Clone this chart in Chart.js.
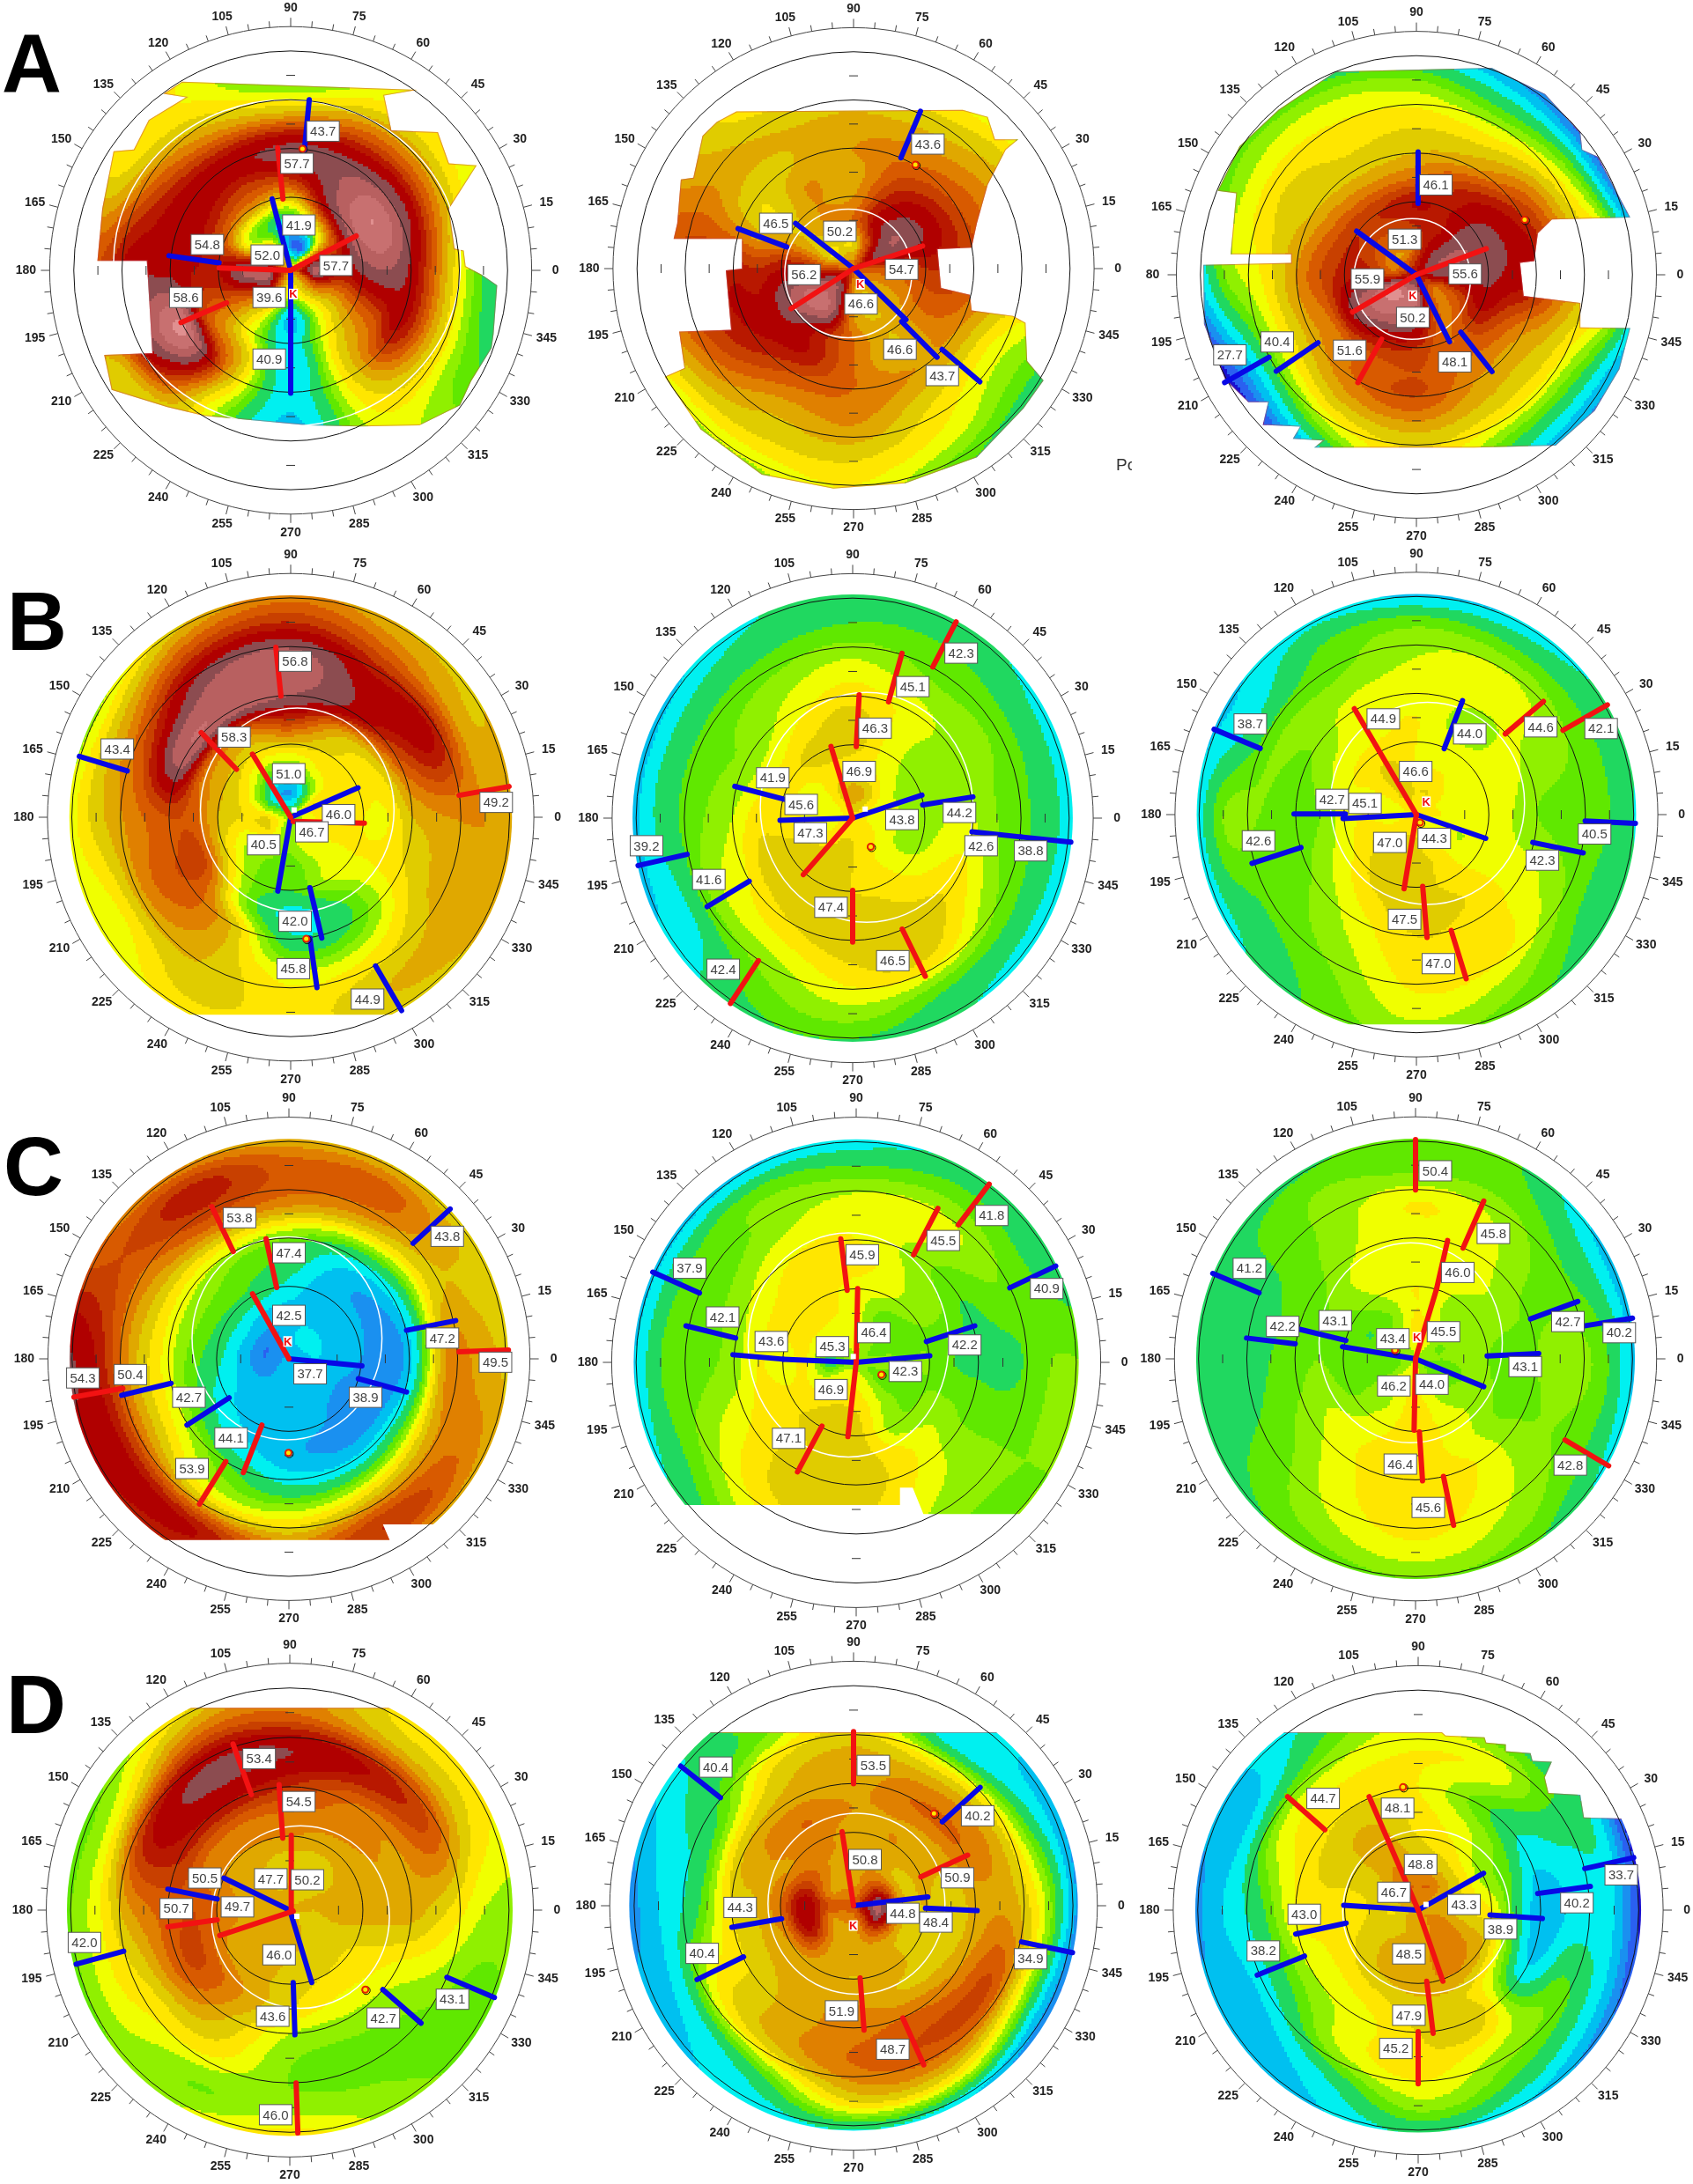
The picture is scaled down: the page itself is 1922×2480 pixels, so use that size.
<!DOCTYPE html>
<html>
<head>
<meta charset="utf-8">
<title>Topography maps</title>
<script src="https://cdn.jsdelivr.net/npm/chart.js@4/dist/chart.umd.min.js"></script>
<style>
  html, body { margin: 0; background: #fff; width: 1922px; height: 2480px; overflow: hidden; }
  canvas { position: absolute; }
  .letter { position: absolute; font: bold 94px "Liberation Sans", Arial, sans-serif; color: #000; line-height: 94px; }
  .clipped { position: absolute; left: 1267px; top: 517px; width: 18px; overflow: hidden; font: 19px "Liberation Sans", Arial, sans-serif; color: #333; }
</style>
</head>
<body>
<script>
// Colour bands of the keratometry scale (dioptres)
const kBands = [30,32,34,36,37.5,39,40.5,42,43,44,45,46,47,48,49,50,51,52,53.5,55,56.5,58];
const kColors = ['#7a1fb0','#3a10b0','#1a10d0','#2a60f0','#1a90f0','#00c0f0','#00f0f0','#20d860','#60e800','#90f000','#f0ff00','#ffe600','#e0cc00','#e0a800','#e08000','#d85a00','#c84000','#b81800','#b00000','#8c4c50','#b86060','#c87070','#e09090'];

// Map grid: rows are radii, columns are angles
const mapRadii = [1,2,3,4,5,6.5,8,9.5];
const mapAngles = [0,30,60,90,120,150,180,210,240,270,300,330];
const ringRadii = [3,5,7,9,10];
const axisMarks = [-8,-6,-4,-2,2,4,6,8];
const degreeLabels = [0,15,30,45,60,75,90,105,120,135,150,165,180,195,210,225,240,255,270,285,300,315,330,345];

// ---- Row A
const a1Map = [
[56,50,36,36,45,50,56,54,48,44,46,50],
[52,50,45,40,42,45,55,50,45,38.5,44,48],
[54,56,53,47,48,49,52,49,44,39.5,45,49],
[55,58,55,52,51,52,52,50,47,39,46,50],
[53,55,54,54,53,53,53,58,47,39.5,46,52],
[47,49,49,47,48,50,53,54,44.5,38.5,45,47],
[42,45,45,42,45,46,50,47,45,38,44,43],
[40,45,45,42,45,46,50,47,44,38,44,42]];
const a1Red = [[0,0,2.72,1.41],[-2.97,.1,0,0],[-.32,2.93,-.54,5.03],[-2.66,-1.33,-4.55,-2.14]];
const a1Blue = [[-.77,2.93,0,0],[0,0,0,-2.97],[0,-2.97,0,-5.04],[.57,4.96,.77,7],[-2.97,.31,-5.05,.6]];
const a1Values = [57.7,52.0,57.7,58.6,41.9,39.6,40.9,43.7,54.8];
const a1ValueAt = [[1.88,.2],[-.97,.63],[.26,4.39],[-4.35,-1.11],[.34,1.86],[-.89,-1.11],[-.89,-3.64],[1.34,5.71],[-3.46,1.06]];
const a1Outline = [[-4.51,7.74],[5.26,7.41],[3.88,7.17],[4.18,5.74],[6.11,5.67],[6.57,4.39],[7.72,4.31],[6.57,2.53],[6.8,.89],[7.18,.81],[7.26,.17],[7.95,-.19],[8.57,-.61],[8.42,-2.61],[8.34,-3.19],[7.49,-4.54],[7.03,-5.54],[5.34,-6.36],[2.88,-6.4],[.72,-6.36],[-3.58,-5.97],[-5.12,-5.61],[-7.43,-4.9],[-7.74,-3.47],[-5.74,-3.4],[-5.97,.39],[-8.02,.39],[-7.82,2.53],[-7.35,4.89],[-6.51,4.96],[-5.89,6.17],[-4.35,7.1],[-5.28,7.24]];

const a2Map = [
[50,54,50,46,46,46,50,55,54,48,47,48],
[50,55,53,49,48,47,52,57,56,48,47,48],
[51,54,52,48,48,47,52,55,52,49,47,49],
[51,52,50.5,47.5,48,46,51,52.5,52,49,47,49],
[50,50,49,48,47,46.5,51.5,52,50,49,48,48],
[48,48,47,47,47,48,51,50,47.5,48,46,45],
[46,46,45,46,45.5,47.5,50,47,46,46,44.5,43],
[44,42,42,45,45,47,48,44,43.5,44.7,42,41]];
const a2Red = [[0,0,2.87,.94],[0,0,-2.6,-1.66]];
const a2Blue = [[0,0,-2.41,1.88],[0,0,2.18,-2.12],[2,-2.2,3.47,-3.68],[3.68,-3.35,5.25,-4.7],[1.97,4.6,2.78,6.53],[-2.78,.9,-4.8,1.66]];
const a2Values = [54.7,56.2,50.2,46.6,46.6,43.7,43.6,46.5];
const a2ValueAt = [[2,-.03],[-2.06,-.25],[-.57,1.55],[.31,-1.47],[1.93,-3.35],[3.69,-4.44],[3.09,5.17],[-3.23,1.88]];
const a2Outline = [[-4.87,6.52],[4.54,6.59],[5.58,6.3],[5.88,5.36],[6.85,5.36],[6.33,4.93],[5.58,3.48],[5.13,1.88],[4.91,.87],[3.49,.8],[3.64,-.8],[4.84,-1.09],[4.91,-1.74],[6.63,-1.96],[7.15,-2.25],[7.22,-3.84],[7.9,-4.64],[7.07,-5.8],[5.13,-7.83],[2.15,-8.91],[-.84,-9.13],[-3.82,-8.55],[-6.36,-6.67],[-7.85,-4.49],[-7.03,-4.13],[-7.25,-2.61],[-5.09,-2.54],[-5.31,-.07],[-4.64,0],[-4.64,1.23],[-7.48,1.23],[-7.33,1.88],[-7.18,3.7],[-6.66,3.77],[-6.28,5.51],[-5.69,6.09]];

const a3Map = [
[54,55,53,50,48,48,50,58,58,57,50,49],
[54,55,52,51,50,50,52,57,56,54,49,50],
[54,54.5,52,52,51,51,51.5,54,52,51,49,52],
[53,53,51,49,48.5,49,50,49,49.5,50,49,50],
[52,51,48,47,46.5,47,48,47.5,49,50,48,48],
[48,47,45,45.5,45.5,46,45,44,46,47,46,46],
[46,42,41,43,44,44,43,38,41,45,42,42],
[40,33,36,39,41,42,38,31,33,43,38,37]];
const a3Red = [[0,0,2.91,1.07],[0,0,-2.66,-1.53],[-1.45,-2.65,-2.44,-4.43]];
const a3Blue = [[0,0,-2.49,1.79],[0,0,1.38,-2.75],[1.85,-2.36,3.15,-3.98],[.07,2.93,.07,5.05],[-4.1,-2.79,-5.84,-3.96],[-6.14,-3.39,-7.99,-4.43]];
const a3Values = [55.6,55.9,51.6,51.3,50.2,48.1,46.1,40.4,27.7];
const a3ValueAt = [[2.03,.03],[-2.04,-.17],[-2.78,-3.1],[-.49,1.46],[-.15,-1.75],[1.6,-3.58],[.81,3.69],[-5.8,-2.76],[-7.77,-3.29]];
const a3Outline = [[-3.37,8.35],[3.14,8.5],[5.36,7.43],[6.83,5.85],[6.91,5.14],[7.57,4.85],[8.91,2.35],[5.65,2.27],[5.06,1.7],[4.91,.56],[4.32,.49],[4.47,-.87],[6.83,-1.16],[6.83,-2.16],[8.91,-2.19],[8.46,-3.88],[7.43,-5.59],[5.8,-7.02],[2.4,-7.1],[-4.26,-7.1],[-3.9,-6.81],[-5.15,-6.74],[-4.85,-6.24],[-6.4,-6.17],[-6.18,-5.24],[-7,-5.24],[-7.96,-4.31],[-8.85,-2.02],[-8.88,.41],[-5.22,.49],[-5.22,.84],[-7.74,.84],[-7.51,3.35],[-8.28,3.45],[-7.37,5.28],[-5.74,6.78]];

// ---- Row B
const b1Map = [
[45,46,41,37,38,42,46,46,44,43.5,45,45.5],
[45.5,45.5,44.5,42.5,43,45,46,44,43,42.5,44,45],
[45,45.5,46,46.5,46,47,47,46,43,42,44,45],
[45,46,47.5,51,49,49,49.5,50,43.5,40,42,45],
[47,50,53,55,56,56,50,50,47,41,42,45.5],
[48,52.5,52.5,56,55,51,48.5,48.5,47,44.5,45,47],
[48,47.5,49,51,50,47,46.5,45,46.5,45.5,47,47.5],
[47.5,47,46.5,48,46,43,44,44,45,45,46,47]];
const b1Red = [[0,0,-1.57,2.59],[.1,-.17,3.03,-.24],[-2.23,1.97,-3.68,3.47],[-.4,4.97,-.61,6.97],[6.92,.9,8.98,1.26]];
const b1Blue = [[0,0,2.77,1.21],[0,0,-.53,-3.03],[.79,-2.89,1.28,-4.96],[.79,-4.96,1.08,-6.99],[3.49,-6.1,4.56,-7.93],[-6.72,1.9,-8.69,2.5]];
const b1Values = [51.0,46.0,58.3,56.8,49.2,46.7,40.5,42.0,45.8,44.9,43.4];
const b1ValueAt = [[-.08,1.79],[1.97,.11],[-2.33,3.29],[.18,6.4],[8.45,.61],[.87,-.6],[-1.11,-1.13],[.18,-4.27],[.11,-6.21],[3.16,-7.46],[-7.13,2.8]];
const b1Outline = [[-11,11],[11,11],[11,-8.1],[-11,-8.1]];

const b2Map = [
[44.5,45,47,48,46,44.5,44.5,45,46,46,45.5,45],
[44,44,45,45.5,45.5,44.5,45,46,46.5,46,45,44],
[43.5,43.5,44.5,46.5,46.5,45.5,45.5,46.5,46.5,46,45.5,44],
[44,43.5,44.5,46.5,45.5,44.5,45.5,46.5,46.5,46.7,46,45],
[44,43.5,44.5,45.5,44.5,43.2,44,45,46,46.7,46.7,45.5],
[42.5,43,43,44,43.2,42.7,42.7,43.5,44,45.5,46,43.5],
[41.5,41.5,42,42,41.5,41,41,40,42.5,43.5,42,41.5],
[39,39.5,41,41.5,40,38,37.8,39,41.5,41.5,40.5,39]];
const b2Red = [[0,0,-.9,2.93],[0,0,-2.05,-2.31],[.15,2.93,.27,5.04],[1.49,4.76,2.05,6.74],[3.33,6.18,4.3,8.03],[0,-2.95,0,-5.07],[2.06,-4.54,3.02,-6.47],[-3.92,-5.83,-5.08,-7.58]];
const b2Blue = [[0,0,2.88,.94],[0,0,-3.02,-.09],[-2.84,.77,-4.9,1.3],[2.91,.54,5,.87],[4.96,-.56,7,-.77],[7,-.77,9.07,-.98],[-6.88,-1.48,-8.92,-1.94],[-4.3,-2.58,-6.05,-3.62]];
const b2Values = [46.9,47.3,46.3,45.1,42.3,47.4,46.5,42.4,43.8,45.6,41.9,44.2,42.6,38.8,39.2,41.6];
const b2ValueAt = [[.27,1.91],[-1.76,-.6],[.93,3.68],[2.5,5.38],[4.51,6.75],[-.9,-3.65],[1.67,-5.83],[-5.38,-6.18],[2.05,-.06],[-2.14,.56],[-3.32,1.65],[4.44,.23],[5.34,-1.13],[7.4,-1.34],[-8.57,-1.13],[-5.98,-2.51]];

const b3Map = [
[45,45,46,46,46.5,45,44,45.5,46,46,45,44.5],
[44.5,44.5,45,45,46.5,45,45,46,46.5,46.5,45.5,44],
[44.5,44.5,44.5,45,45.5,45,44.5,45,46.5,46.5,45.5,44.5],
[44,44.5,43.5,45,44.5,44,43,44,45.5,46.7,46,44.5],
[43,44,44,44.5,44.5,43,42.5,43,44.5,46,45.5,44.5],
[42.5,43.5,44.5,44,43,43,43,42.5,43.5,45.5,45.5,43.5],
[42,42,42,42.5,42,40,43,41.5,42.5,44.5,43.5,41.8],
[40,40.5,38.5,37.5,39.5,38.5,38.5,39.5,42,43,42,41]];
const b3Red = [[0,0,-2.57,4.37],[0,0,-.51,-3.06],[.26,-2.96,.44,-5.07],[1.44,-4.78,2.06,-6.77],[3.68,3.33,5.26,4.67],[6.07,3.48,7.91,4.53]];
const b3Blue = [[0,0,2.87,-.98],[0,0,-3.04,-.16],[-2.94,.03,-5.07,.03],[1.15,2.72,1.91,4.7],[4.82,-1.15,6.91,-1.58],[6.99,-.26,9.07,-.36],[-4.78,-1.36,-6.81,-2.01],[-6.47,2.73,-8.38,3.52]];
const b3Values = [46.6,44.9,47.0,47.5,47.0,44.6,42.1,44.3,45.1,42.7,44.0,42.3,40.5,42.6,38.7];
const b3ValueAt = [[-.03,1.78],[-1.37,3.95],[-1.1,-1.15],[-.49,-4.32],[.91,-6.15],[5.15,3.62],[7.65,3.55],[.74,-.98],[-2.13,.46],[-3.49,.63],[2.21,3.33],[5.22,-1.88],[7.38,-.8],[-6.54,-1.08],[-6.88,3.74]];
const b3Outline = [[-11,11],[11,11],[11,-8.66],[-11,-8.66]];

// ---- Row C
const c1Map = [
[39,39.5,39.5,38.5,37,36,36,37,38,38.5,38.5,38.5],
[38.5,38.5,38.5,38.5,38.5,39,38.5,38.5,38,38,38,37.8],
[37.5,38,38,40,41.5,41.5,41,39.5,38.5,38,37.5,36.5],
[36.5,37,38.5,41.5,42.5,43,42.5,41.5,39.5,38,37,36.5],
[38.5,39.5,41,43,44,44.5,44.5,44,42,40,39.5,40],
[48,46,47.5,48.5,49.5,48,47.5,47.5,45,44.5,46,47],
[47.5,47,49.5,49.5,51.5,50,52,52.5,52,49,51,49],
[46.5,46,46,46.5,47,49,54,52,50,49,47,47]];
const c1Red = [[0,0,-1.51,2.69],[-.51,2.95,-.95,4.97],[-2.31,4.44,-3.2,6.3],[-1.12,-2.74,-1.89,-4.71],[-2.62,-4.25,-3.71,-6.01],[-6.89,-1.22,-8.92,-1.58],[7.06,.29,9.11,.36]];
const c1Blue = [[0,0,3.03,-.29],[2.88,-.82,4.88,-1.37],[-2.48,-1.61,-4.23,-2.74],[-4.89,-1.01,-6.94,-1.51],[4.88,1.18,6.92,1.58],[5.15,4.78,6.69,6.2]];
const c1Values = [42.5,47.4,53.8,44.1,53.9,54.3,49.5,37.7,38.9,42.7,50.4,47.2,43.8];
const c1ValueAt = [[0,1.8],[0,4.39],[-2.05,5.84],[-2.4,-3.27],[-4.02,-4.54],[-8.55,-.79],[8.57,-.14],[.88,-.62],[3.18,-1.59],[-4.15,-1.59],[-6.58,-.65],[6.37,.86],[6.57,5.07]];
const c1Outline = [[-11,11],[11,11],[11,-6.85],[3.9,-6.85],[4.18,-7.5],[-11,-7.5]];

const c2Map = [
[43.5,42.5,43.5,44.5,44,43,41,44,45,45,44,42.5],
[43,42.5,42.5,44.5,45,45,45,45,46,46,44,42.5],
[43,43,44,44.5,45.5,45.5,44.5,45.5,46.5,46.5,43.5,43],
[42,43,44,45.5,45.5,45,45,45.5,46,46.5,45,43.5],
[41.8,42,43.5,45,45,44,43.5,45,46.5,46.7,45,43],
[41.8,43,44.5,44.5,43.5,42.5,42.5,44,46,46,44,43],
[43,42,42.5,42,42.5,41.8,42,42,44,44,43,43],
[43,40.5,40.5,39,37.5,37.5,38,40,41.5,42,43,43]];
const c2Red = [[.06,3.01,0,0],[0,0,-.34,-3.03],[-.37,2.94,-.63,5.04],[2.35,4.39,3.34,6.28],[4.18,5.61,5.44,7.27],[-1.4,-2.6,-2.4,-4.47]];
const c2Blue = [[0,0,3.01,.27],[0,0,-2.99,.13],[-2.99,.13,-5.04,.31],[2.87,.85,4.85,1.49],[6.28,3.04,8.16,3.93],[-4.93,.99,-6.96,1.49],[-6.41,2.83,-8.32,3.68]];
const c2Values = [46.4,46.9,45.9,45.5,41.8,47.1,42.3,45.3,43.6,42.2,40.9,42.1,37.9];
const c2ValueAt = [[.72,1.21],[-1.03,-1.11],[.25,4.39],[3.56,4.97],[5.54,5.99],[-2.76,-3.1],[2.01,-.37],[-.97,.64],[-3.47,.85],[4.44,.71],[7.79,3.01],[-5.46,1.85],[-6.81,3.84]];
const c2Outline = [[-11,11],[11,11],[11,-6.19],[2.75,-6.19],[2.31,-5.11],[1.79,-5.11],[1.79,-5.82],[-11,-5.82]];

const c3Map = [
[43,43,45,45.5,44,43,42.5,43,45,45,43.5,42],
[43.2,43.5,44,45,43,42,42.5,43,44,45.5,44,43],
[43,43.5,44,45,44,42.5,42.5,43,44.5,45.5,44.5,43.5],
[42.5,43.5,44.5,44.5,44.5,43,43,44,45,45.5,44.5,42.8],
[43,43,44.5,44.5,44,42.5,42.5,43.5,45,45.7,45,43],
[43.5,42.5,44,45,43.5,42,41.8,42.5,44.5,45.7,44.5,43],
[42,41,42.5,42.5,43,41.8,41.5,42,43.5,44.5,43.5,42],
[37.5,37.5,41.8,42.5,41.5,41.5,41.5,41.5,42,42.5,42,39.5]];
const c3Red = [[0,0,.87,2.88],[.87,2.88,1.33,4.89],[1.97,4.58,2.83,6.52],[0,6.98,0,9.06],[0,0,-.06,-2.95],[.16,-3.02,.29,-5.04],[1.16,-4.86,1.58,-6.88],[6.2,-3.35,8.01,-4.42]];
const c3Blue = [[0,0,-3.03,.5],[0,0,2.83,-1.15],[-2.89,.76,-4.8,1.22],[-4.99,.62,-7.01,.86],[-6.49,2.73,-8.41,3.53],[2.97,.12,5.11,.22],[4.77,1.65,6.73,2.37],[7.05,1.37,9,1.68]];
const c3Values = [45.5,46.0,45.8,50.4,46.2,46.4,45.6,42.8,43.4,44.0,43.1,42.2,41.2,43.1,42.7,40.2];
const c3ValueAt = [[1.16,1.12],[1.75,3.57],[3.23,5.18],[.82,7.77],[-.9,-1.12],[-.63,-4.35],[.53,-6.14],[6.42,-4.39],[-.94,.83],[.68,-1.05],[-3.33,1.58],[-5.51,1.34],[-6.89,3.74],[4.55,-.32],[6.32,1.54],[8.45,1.08]];

// ---- Row D
const d1Map = [
[47,47,46.5,47,47,47.5,47.5,48,47.5,47.5,47,46.5],
[47.5,47,46.5,46.5,47,47.5,48,47.5,47.5,47,46.5,46.5],
[47.5,47.5,47.5,48,48,48,49,48,47.5,46.5,46,46],
[47.5,48,48.5,49,49,49,50,50,48,46,45,45.5],
[47.5,48,49,51,52,51.5,49.5,49.5,47,44,43.8,44.5],
[46,50,52,53.5,54,52,48,46,45.5,43,42.5,43.5],
[44,46.5,47,49,49,45,44.5,44.5,43,43.5,43,42.5],
[43.5,45,45.5,48,45,42.5,42.5,42.5,44.3,46,43.5,43]];
const d1Red = [[.06,.03,.06,3.03],[.14,-.04,-2.88,-1.03],[-.29,2.92,-.44,5.08],[-1.58,4.68,-2.33,6.73],[-2.98,-.39,-5.01,-.68],[.26,-7,.33,-9.03]];
const d1Blue = [[0,0,-2.71,1.3],[0,0,.9,-2.93],[-2.98,.45,-5.01,.85],[.14,-2.93,.21,-5.05],[3.82,-3.22,5.39,-4.58],[6.45,-2.72,8.4,-3.54],[-6.82,-1.66,-8.77,-2.19]];
const d1Values = [50.2,49.7,54.5,53.4,50.7,46.0,47.7,46.0,50.5,43.6,42.7,43.1,42.0];
const d1ValueAt = [[.72,1.23],[-2.15,.13],[.37,4.4],[-1.26,6.14],[-4.66,.06],[-.58,-8.29],[-.78,1.27],[-.44,-1.81],[-3.49,1.3],[-.7,-4.3],[3.84,-4.37],[6.68,-3.61],[-8.43,-1.31]];
const d1Outline = [[-11,8.2],[11,8.2],[11,-11],[-11,-11]];

const d2Map = [
[56,52,49,47.5,47.5,48,50,48,47.5,47.5,50,54],
[47.5,47,47.5,48,48,50,53,52,48,47.5,47.5,47.5],
[47,47.5,48,47.5,48.5,48,49,48,47.5,47,47.5,46.5],
[46,47.5,48,48,49,48,47,47,47.5,48,47,46.5],
[47.5,49,49,47.5,47.5,47,46,46,47.5,48.5,49,48],
[47.5,47,46,47,46,42,41.5,45,47,49,50,50],
[43.5,41,39.5,45,42.5,40.5,39,39.5,41.5,46,46,43],
[36,37.5,41.5,44,43,39,36.5,38.5,39,39.5,38,35]];
const d2Red = [[0,0,-.47,3.03],[2.76,1.18,4.68,2.07],[0,7.12,0,4.99],[.27,-2.95,.43,-5.09],[2.02,-4.59,2.88,-6.51]];
const d2Blue = [[0,0,3.05,.36],[2.95,-.1,5.07,-.2],[-2.95,-.53,-4.99,-.88],[-4.51,-2.09,-6.42,-3.02],[-5.46,4.42,-7.09,5.71],[3.64,3.43,5.19,4.84],[6.89,-1.48,8.98,-1.92]];
const d2Values = [50.8,50.9,53.5,51.9,48.7,44.8,48.4,44.3,40.4,40.4,40.2,34.9];
const d2ValueAt = [[.47,1.89],[4.26,1.14],[.81,5.74],[-.49,-4.3],[1.61,-5.87],[2.02,-.31],[3.38,-.67],[-4.65,-.07],[-6.21,-1.95],[-5.65,5.67],[5.09,3.68],[7.26,-2.17]];
const d2Outline = [[-11,7.1],[11,7.1],[11,-11],[-11,-11]];

const d3Map = [
[47.5,47.5,49,49,49,47.5,46,46.5,47,47.5,48,48.5],
[46,46,46.5,47,48,46.5,46,46.5,47.5,47.5,48.5,48],
[45,43.5,45,46,47.5,46.5,45.5,46,47,47.5,48,47],
[41.5,42.5,44,45.5,47,46.5,45.5,45,45.5,46.5,46,43],
[38,40,42.5,45,46,45.5,45,44,44.5,46,46.5,39.5],
[39.5,41,44.5,45,44.5,44,41.5,41,44,45.5,44,42.5],
[39,40.5,41.5,43.5,42,38.5,39,38,40,43.5,41.8,40],
[32,33,38,41,40,38.5,36.5,38.5,38.5,40,38,35]];
const d3Red = [[0,0,-2,4.64],[0,0,1.01,-2.91],[.35,-2.91,.61,-5.04],[0,-4.97,0,-7.11],[-3.81,3.29,-5.33,4.64]];
const d3Blue = [[0,0,-3.04,.2],[0,0,2.67,1.51],[-2.94,-.53,-5,-.98],[-4.64,-1.88,-6.57,-2.66],[2.93,-.2,5.07,-.34],[4.88,.68,7.03,.97],[6.8,1.7,8.8,2.15]];
const d3Values = [48.8,48.1,48.5,47.9,45.2,44.7,46.7,43.3,43.0,38.2,38.9,40.2,33.7];
const d3ValueAt = [[.1,1.87],[-.84,4.17],[-.38,-1.79],[-.38,-4.3],[-.91,-5.66],[-3.88,4.57],[-.99,.73],[1.87,.23],[-4.65,-.17],[-6.32,-1.67],[3.36,-.77],[6.48,.3],[8.29,1.44]];
const d3Outline = [[-11,7.28],[.97,7.28],[1.12,7.14],[2.71,7.07],[2.78,6.85],[3.58,6.78],[3.58,6.5],[4.59,6.42],[4.67,6.11],[5.46,6.07],[5.17,5.43],[5.32,4.79],[6.62,4.72],[6.77,3.79],[8.36,3.75],[11,3.75],[11,-11],[-11,-11]];

// Where each panel sits on the page, plus pupil contour, fixation dot and K mark
const panels = [
  {map:a1Map, red:a1Red, blue:a1Blue, values:a1Values, at:a1ValueAt, outline:a1Outline, rim:11, fringe:true, cx:329.6, cy:307.2, rx:273.6, ry:276.8, pupil:[-.15,.3,7.2,6.7], dot:[.49,4.99], k:[.11,-.97], kText:'K'},
  {map:a2Map, red:a2Red, blue:a2Blue, values:a2Values, at:a2ValueAt, outline:a2Outline, rim:11, fringe:true, cx:968.6, cy:304.5, rx:273.1, ry:273.6, pupil:[-.22,-.2,2.64,2.67], dot:[2.57,4.31], k:[.28,-.65], kText:'K'},
  {map:a3Map, red:a3Red, blue:a3Blue, values:a3Values, at:a3ValueAt, outline:a3Outline, rim:11, fringe:true, cx:1608.4, cy:312.4, rx:272.5, ry:276.4, pupil:[-.18,-.17,2.43,2.48], dot:[4.51,2.26], k:[-.15,-.86], kText:'K', cut180:true},
  {map:b1Map, red:b1Red, blue:b1Blue, values:b1Values, at:b1ValueAt, outline:b1Outline, rim:9.1, cx:329.6, cy:927.6, rx:276.1, ry:276.8, pupil:[.27,.3,3.98,4.18], dot:[.64,-4.99], k:[.14,.3], kText:''},
  {map:b2Map, red:b2Red, blue:b2Blue, values:b2Values, at:b2ValueAt, outline:null, rim:9.15, cx:968.2, cy:928.8, rx:273.1, ry:277.6, pupil:[.58,.44,4.42,4.7], dot:[.75,-1.17], k:[.52,.37], kText:''},
  {map:b3Map, red:b3Red, blue:b3Blue, values:b3Values, at:b3ValueAt, outline:b3Outline, rim:9.1, cx:1608.4, cy:925.2, rx:274.1, ry:275.2, pupil:[.46,.46,4.02,4.17], dot:[.15,-.33], k:[.41,.53], kText:'K'},
  {map:c1Map, red:c1Red, blue:c1Blue, values:c1Values, at:c1ValueAt, outline:c1Outline, rim:9.1, cx:327.5, cy:1542.5, rx:273.6, ry:274.4, pupil:[-.08,.85,3.94,4.2], dot:[-.02,-3.89], k:[-.05,.72], kText:'K'},
  {map:c2Map, red:c2Red, blue:c2Blue, values:c2Values, at:c2ValueAt, outline:c2Outline, rim:9.1, cx:971.5, cy:1547.2, rx:277.6, ry:278.4, pupil:[-.32,.71,4.1,4.57], dot:[1.03,-.5], k:[-.12,.24], kText:''},
  {map:c3Map, red:c3Red, blue:c3Blue, values:c3Values, at:c3ValueAt, outline:null, rim:9.1, cx:1606.8, cy:1542.5, rx:273.7, ry:274.8, pupil:[-.2,.66,3.8,4.13], dot:[-.85,.36], k:[.06,.89], kText:'K'},
  {map:d1Map, red:d1Red, blue:d1Blue, values:d1Values, at:d1ValueAt, outline:d1Outline, rim:9.15, fringe:true, cx:328.7, cy:2169.2, rx:276.5, ry:280.3, pupil:[.44,-.28,3.65,3.7], dot:[3.1,-3.22], k:[.29,-.25], kText:''},
  {map:d2Map, red:d2Red, blue:d2Blue, values:d2Values, at:d2ValueAt, outline:d2Outline, rim:9.2, fringe:true, cx:969.4, cy:2163.7, rx:276.8, ry:277.6, pupil:[.12,.08,3.63,3.7], dot:[3.3,3.77], k:[-.01,-.81], kText:'K'},
  {map:d3Map, red:d3Red, blue:d3Blue, values:d3Values, at:d3ValueAt, outline:d3Outline, rim:9.1, fringe:true, cx:1609.7, cy:2168.8, rx:278.1, ry:277.6, pupil:[.32,-.06,3.4,3.35], dot:[-.62,5.03], k:[.32,.23], kText:''}
];

const letters = [['A',2,104],['B',8,737],['C',4,1356],['D',7,1967]];

function catmull(a, b, c, d, t) {
    return b + 0.5 * t * (c - a + t * (2 * a - 5 * b + 4 * c - d + t * (3 * (b - c) + d - a)));
}

// Smooth reading of the map grid at a polar position, for the contour bands
function mapValue(map, r, deg) {
    const n = mapAngles.length;
    const at = ((deg % 360) + 360) % 360 / 30;
    const j = Math.floor(at), tj = at - j;
    function ringAt(i) {
        const row = map[Math.max(0, Math.min(mapRadii.length - 1, i))];
        return catmull(row[(j + n - 1) % n], row[j % n], row[(j + 1) % n], row[(j + 2) % n], tj);
    }
    if (r < 1) {
        const mean = map[0].reduce((s, v) => s + v, 0) / n;
        return mean + (ringAt(0) - mean) * r;
    }
    let i = 0;
    while (i < mapRadii.length - 2 && r > mapRadii[i + 1]) i++;
    const t = Math.min(1, (r - mapRadii[i]) / (mapRadii[i + 1] - mapRadii[i]));
    return catmull(ringAt(i - 1), ringAt(i), ringAt(i + 1), ringAt(i + 2), t);
}

function bandColor(v) {
    let i = 0;
    while (i < kBands.length && v >= kBands[i]) i++;
    return kColors[i];
}

function ellipseAt(ctx, sx, sy, x, y, rx, ry) {
    const px = sx.getPixelForValue(x), py = sy.getPixelForValue(y);
    const prx = Math.abs(sx.getPixelForValue(x + rx) - px), pry = Math.abs(sy.getPixelForValue(y + ry) - py);
    ctx.beginPath();
    ctx.ellipse(px, py, prx, pry, 0, 0, Math.PI * 2);
}

function outlinePath(ctx, sx, sy, outline) {
    ctx.beginPath();
    outline.forEach((p, i) => {
        const px = sx.getPixelForValue(p[0]), py = sy.getPixelForValue(p[1]);
        if (i === 0) ctx.moveTo(px, py); else ctx.lineTo(px, py);
    });
    ctx.closePath();
}

// Draws everything under the meridians: map, pupil, rings, degree ticks
const underPlugin = {
    id: 'under',
    beforeDatasetsDraw(chart) {
        const ctx = chart.ctx, sx = chart.scales.x, sy = chart.scales.y, p = chart.options.plugins.under.panel;
        const step = 3;

        ctx.save();
        ellipseAt(ctx, sx, sy, 0, 0, p.rim, p.rim);
        ctx.clip();
        if (p.outline) {
            outlinePath(ctx, sx, sy, p.outline);
            ctx.clip();
        }
        for (let px = 0; px < chart.width; px += step) {
            for (let py = 0; py < chart.height; py += step) {
                const x = sx.getValueForPixel(px + step / 2), y = sy.getValueForPixel(py + step / 2);
                const r = Math.hypot(x, y);
                if (r > p.rim + 0.3) continue;
                ctx.fillStyle = bandColor(mapValue(p.map, r, Math.atan2(y, x) * 180 / Math.PI));
                ctx.fillRect(px, py, step, step);
            }
        }
        if (p.outline && p.fringe) {
            outlinePath(ctx, sx, sy, p.outline);
            ctx.strokeStyle = 'rgba(200,70,80,0.5)';
            ctx.lineWidth = 2;
            ctx.stroke();
        }
        ctx.restore();

        // pupil contour
        ellipseAt(ctx, sx, sy, p.pupil[0], p.pupil[1], p.pupil[2], p.pupil[3]);
        ctx.strokeStyle = '#fff';
        ctx.lineWidth = 1.5;
        ctx.stroke();

        // rings
        ringRadii.forEach(r => {
            ellipseAt(ctx, sx, sy, 0, 0, r, r);
            ctx.strokeStyle = r < 10 ? '#111' : '#444';
            ctx.lineWidth = 1;
            ctx.stroke();
        });

        // marks on the two axes
        ctx.strokeStyle = '#333';
        ctx.lineWidth = 1;
        axisMarks.forEach(m => {
            const mx = sx.getPixelForValue(m), my = sy.getPixelForValue(m);
            const ox = sx.getPixelForValue(0), oy = sy.getPixelForValue(0);
            ctx.beginPath();
            ctx.moveTo(mx, oy - 5); ctx.lineTo(mx, oy + 5);
            ctx.moveTo(ox - 5, my); ctx.lineTo(ox + 5, my);
            ctx.stroke();
        });

        // degree ticks and labels on the outer ring
        const ox = sx.getPixelForValue(0), oy = sy.getPixelForValue(0);
        const R = sx.getPixelForValue(10) - ox, Ry = oy - sy.getPixelForValue(10);
        ctx.strokeStyle = '#444';
        for (let d = 0; d < 360; d += 5) {
            const c = Math.cos(d * Math.PI / 180), s = Math.sin(d * Math.PI / 180);
            const len = d % 15 === 0 ? 10 : 7;
            ctx.beginPath();
            ctx.moveTo(ox + R * c, oy - Ry * s);
            ctx.lineTo(ox + (R + len) * c, oy - (Ry + len) * s);
            ctx.stroke();
        }
        ctx.fillStyle = '#222';
        ctx.font = 'bold 14px "Liberation Sans", Arial, sans-serif';
        ctx.textAlign = 'center';
        ctx.textBaseline = 'middle';
        degreeLabels.forEach(d => {
            const c = Math.cos(d * Math.PI / 180), s = Math.sin(d * Math.PI / 180);
            const text = (d === 180 && p.cut180) ? '80' : String(d);
            ctx.fillText(text, ox + (R + 27) * c, oy - (Ry + 21) * s);
        });
    },
    // Value boxes, fixation dot and K mark sit above the meridians
    afterDatasetsDraw(chart) {
        const ctx = chart.ctx, sx = chart.scales.x, sy = chart.scales.y, p = chart.options.plugins.under.panel;

        const kx = sx.getPixelForValue(p.k[0]), ky = sy.getPixelForValue(p.k[1]);
        ctx.fillStyle = '#fff';
        if (p.kText) {
            ctx.fillRect(kx - 5, ky - 6, 10, 12);
            ctx.fillStyle = '#f01010';
            ctx.font = 'bold 13px "Liberation Sans", Arial, sans-serif';
            ctx.textAlign = 'center';
            ctx.textBaseline = 'middle';
            ctx.fillText(p.kText, kx, ky + 1);
        } else {
            ctx.fillRect(kx - 3, ky - 3, 6, 6);
        }

        const dx = sx.getPixelForValue(p.dot[0]), dy = sy.getPixelForValue(p.dot[1]);
        ctx.beginPath();
        ctx.arc(dx + 1, dy + 1, 4.5, 0, Math.PI * 2);
        ctx.strokeStyle = '#111';
        ctx.lineWidth = 1;
        ctx.stroke();
        ctx.beginPath();
        ctx.arc(dx, dy, 3.5, 0, Math.PI * 2);
        ctx.fillStyle = '#ffe600';
        ctx.fill();
        ctx.strokeStyle = '#e82000';
        ctx.lineWidth = 2;
        ctx.stroke();

        ctx.font = '15px "Liberation Sans", Arial, sans-serif';
        ctx.textAlign = 'center';
        ctx.textBaseline = 'middle';
        p.values.forEach((v, i) => {
            const bx = sx.getPixelForValue(p.at[i][0]), by = sy.getPixelForValue(p.at[i][1]);
            ctx.fillStyle = '#fff';
            ctx.fillRect(bx - 18.5, by - 11.5, 37, 23);
            ctx.strokeStyle = '#555';
            ctx.lineWidth = 1;
            ctx.strokeRect(bx - 18.5, by - 11.5, 37, 23);
            ctx.fillStyle = '#444';
            ctx.fillText(v.toFixed(1), bx, by + 1);
        });
    }
};

function segmentDatasets(list, color) {
    return list.map(s => ({
        data: [{x: s[0], y: s[1]}, {x: s[2], y: s[3]}],
        showLine: true,
        borderColor: color,
        borderWidth: 6,
        borderCapStyle: 'round',
        pointRadius: 0
    }));
}

const W = 640, H = 620;
panels.forEach(p => {
    const canvas = document.createElement('canvas');
    canvas.width = W;
    canvas.height = H;
    canvas.style.left = (p.cx - W / 2) + 'px';
    canvas.style.top = (p.cy - H / 2) + 'px';
    document.body.appendChild(canvas);

    const xMax = (W / 2) / p.rx * 10, yMax = (H / 2) / p.ry * 10;
    new Chart(canvas.getContext('2d'), {
        type: 'scatter',
        data: { datasets: segmentDatasets(p.red, '#f21212').concat(segmentDatasets(p.blue, '#0808e6')) },
        options: {
            responsive: false,
            animation: false,
            events: [],
            layout: { padding: 0 },
            scales: {
                x: { type: 'linear', min: -xMax, max: xMax, display: false },
                y: { type: 'linear', min: -yMax, max: yMax, display: false }
            },
            plugins: { legend: { display: false }, tooltip: { enabled: false }, under: { panel: p } }
        },
        plugins: [underPlugin]
    });
});

// Panel letters and the stray cut-off word from the source figure
letters.forEach(l => {
    const div = document.createElement('div');
    div.className = 'letter';
    div.textContent = l[0];
    div.style.left = l[1] + 'px';
    div.style.top = (l[2] - 78) + 'px';
    document.body.appendChild(div);
});
const stray = document.createElement('div');
stray.className = 'clipped';
stray.textContent = 'Po';
document.body.appendChild(stray);
</script>
</body>
</html>
